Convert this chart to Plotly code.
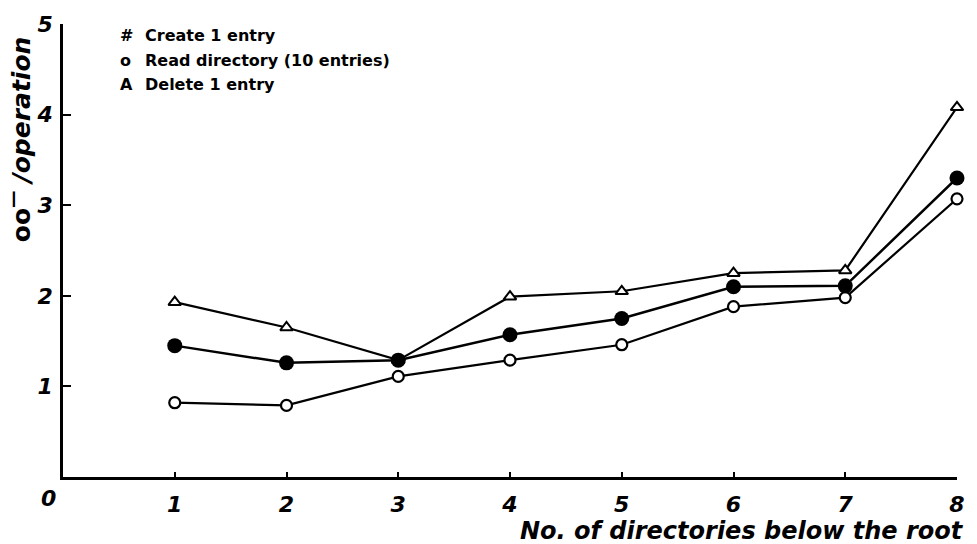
import plotly.graph_objects as go

# ---- data ----
dirs = [1, 2, 3, 4, 5, 6, 7, 8]
create_vals = [1.45, 1.26, 1.29, 1.57, 1.75, 2.10, 2.11, 3.30]
read_vals = [0.82, 0.79, 1.11, 1.29, 1.46, 1.88, 1.98, 3.07]
delete_vals = [1.93, 1.65, 1.29, 1.99, 2.05, 2.25, 2.28, 4.08]

x_ticks = [1, 2, 3, 4, 5, 6, 7, 8]
y_ticks = [1, 2, 3, 4, 5]
legend_symbols = ["#", "o", "A"]
legend_labels = ["Create 1 entry", "Read directory (10 entries)", "Delete 1 entry"]
x_title = "No. of directories below the root"
y_title = "<b>oo</b><sup><b>—</b></sup> <b><i>/operation</i></b>"

FONT = "DejaVu Sans"

# plot-area pixel geometry (for converting pixel positions to paper coords)
L, R, T, B = 63, 14, 20, 67
W, H = 977, 544
PW, PH = W - L - R, H - T - B


def px(xp):
    return (xp - L) / PW


def py(yp):
    return (H - B - yp) / PH


fig = go.Figure()

fig.add_trace(go.Scatter(
    x=dirs, y=delete_vals, mode="lines+markers", name=legend_labels[2],
    line=dict(color="black", width=2.2),
    marker=dict(symbol="triangle-up", size=11, color="white",
                line=dict(color="black", width=2)),
    cliponaxis=False, showlegend=False))

fig.add_trace(go.Scatter(
    x=dirs, y=read_vals, mode="lines+markers", name=legend_labels[1],
    line=dict(color="black", width=2.2),
    marker=dict(symbol="circle", size=11, color="white",
                line=dict(color="black", width=2.2)),
    cliponaxis=False, showlegend=False))

fig.add_trace(go.Scatter(
    x=dirs, y=create_vals, mode="lines+markers", name=legend_labels[0],
    line=dict(color="black", width=2.5),
    marker=dict(symbol="circle", size=15, color="black",
                line=dict(color="black", width=0)),
    cliponaxis=False, showlegend=False))

annotations = []
# legend text block
row_y = [32, 57, 81]
for sym, lab, yy in zip(legend_symbols, legend_labels, row_y):
    annotations.append(dict(
        x=px(118), y=py(yy), xref="paper", yref="paper",
        text="<b>" + sym + "</b>", showarrow=False,
        xanchor="left", yanchor="middle",
        font=dict(family=FONT, size=16, color="black")))
    annotations.append(dict(
        x=px(144), y=py(yy), xref="paper", yref="paper",
        text="<b>" + lab + "</b>", showarrow=False,
        xanchor="left", yanchor="middle",
        font=dict(family=FONT, size=16, color="black")))

# origin label
annotations.append(dict(
    x=px(48), y=py(499), xref="paper", yref="paper",
    text="<b><i>0</i></b>", showarrow=False,
    xanchor="center", yanchor="middle",
    font=dict(family=FONT, size=22, color="black")))

# x-axis title
annotations.append(dict(
    x=px(972), y=py(531), xref="paper", yref="paper",
    text="<b><i>" + x_title + "</i></b>", showarrow=False,
    xanchor="right", yanchor="middle",
    font=dict(family=FONT, size=24, color="black")))

# y-axis title (rotated)
annotations.append(dict(
    x=px(20), y=py(136), xref="paper", yref="paper",
    text=y_title, showarrow=False, textangle=-90,
    xanchor="center", yanchor="middle",
    font=dict(family=FONT, size=25, color="black")))

fig.update_layout(
    width=W, height=H,
    margin=dict(l=L, r=R, t=T, b=B),
    paper_bgcolor="white", plot_bgcolor="white",
    showlegend=False,
    annotations=annotations,
    xaxis=dict(
        range=[0, 8], tickvals=x_ticks,
        ticktext=["<b><i>%d</i></b>" % v for v in x_ticks],
        ticks="inside", ticklen=5, tickwidth=2, tickcolor="black",
        showline=True, linewidth=3, linecolor="black",
        showgrid=False, zeroline=False, ticklabelstandoff=6,
        tickfont=dict(family=FONT, size=22, color="black")),
    yaxis=dict(
        range=[0, 5], tickvals=y_ticks,
        ticktext=["<b><i>%d</i></b>" % v for v in y_ticks],
        ticks="inside", ticklen=8, tickwidth=2, tickcolor="black",
        showline=True, linewidth=2.5, linecolor="black",
        showgrid=False, zeroline=False, ticklabelstandoff=3,
        tickfont=dict(family=FONT, size=22, color="black")),
)

fig.write_html("out.html")
